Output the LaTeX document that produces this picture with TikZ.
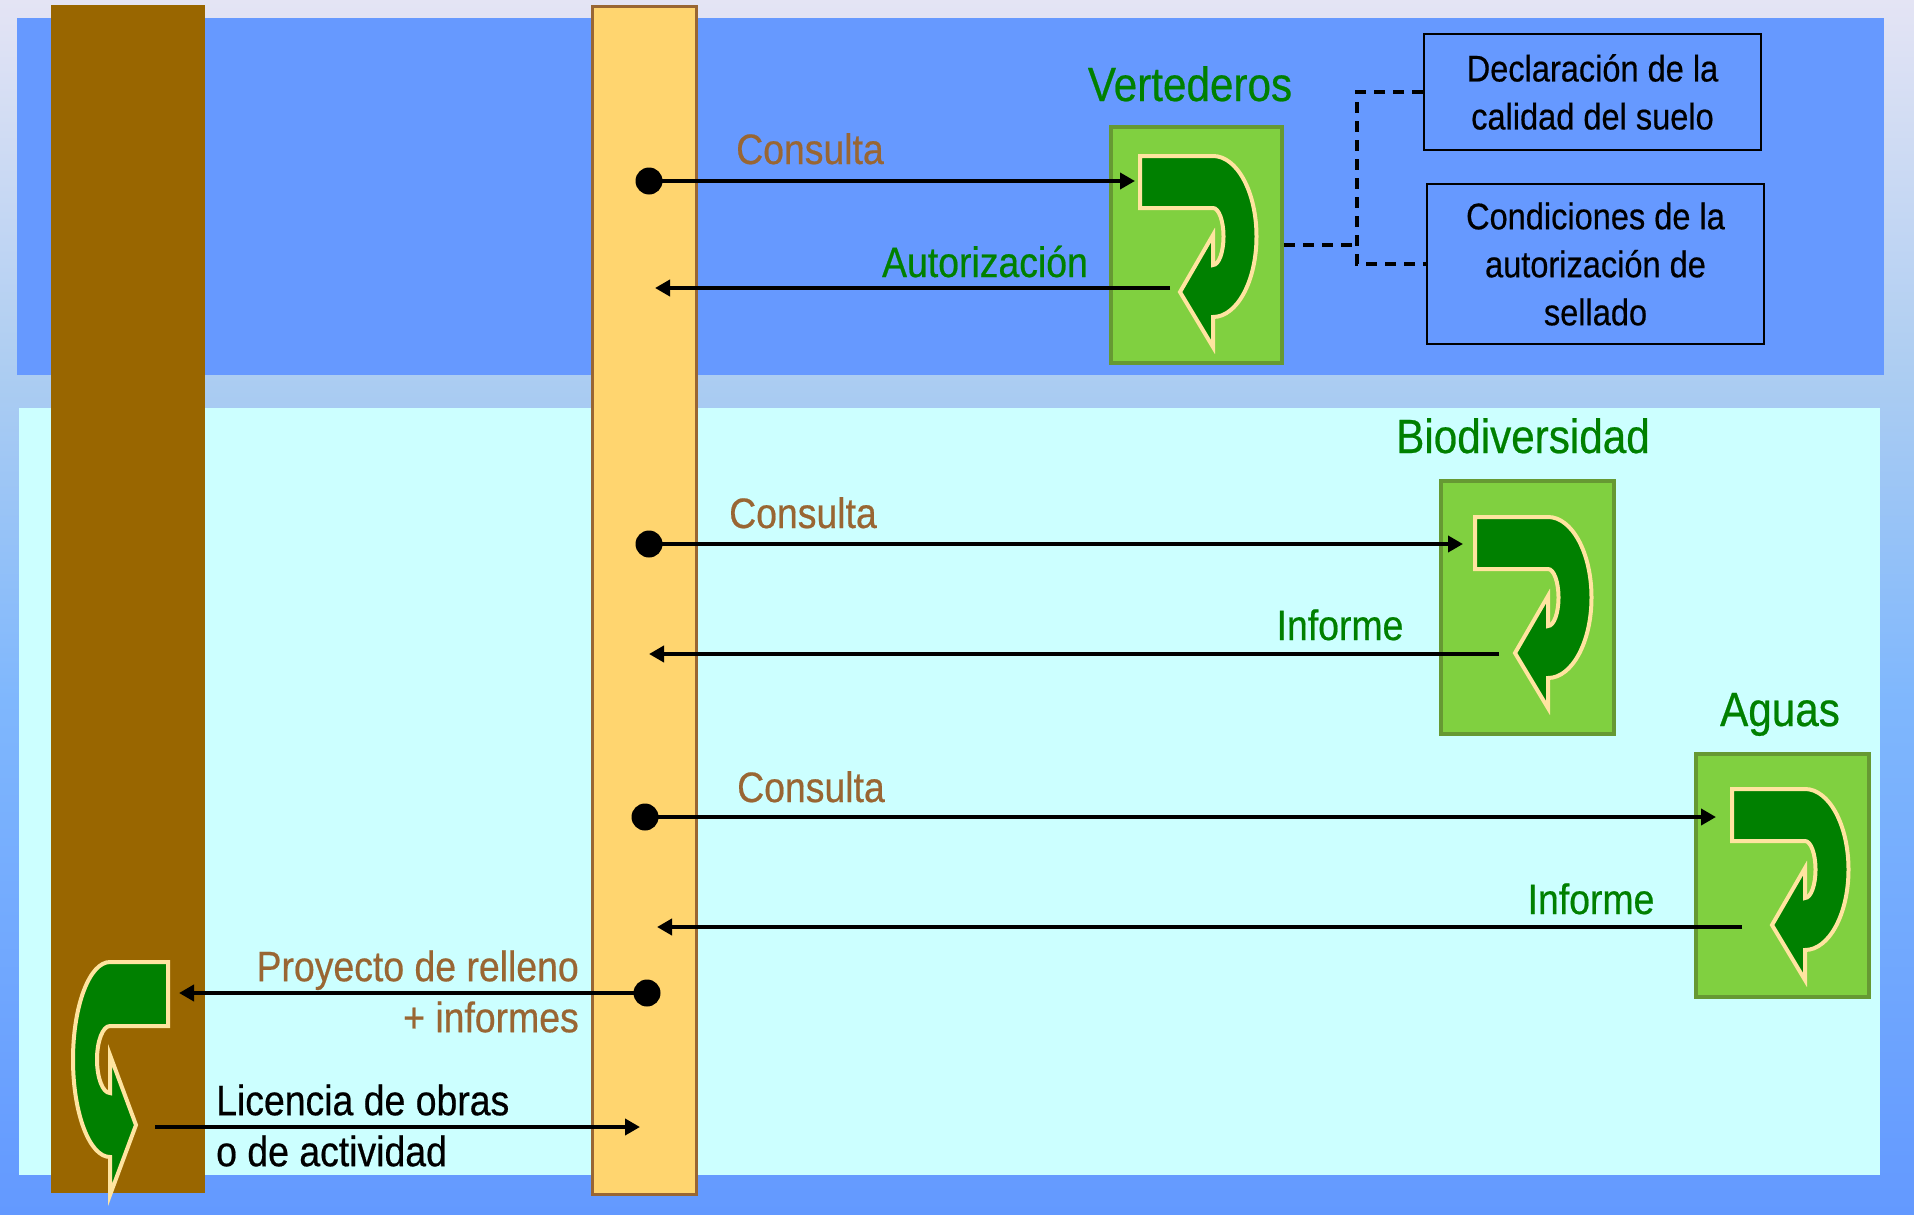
\documentclass[tikz,border=0pt]{standalone}
\usepackage{fontspec}
\setmainfont{Liberation Sans}[FakeStretch=0.88,FakeBold=0.5]
\usetikzlibrary{arrows.meta}
\definecolor{bgtop}{HTML}{E4E4F4}
\definecolor{bgmid}{HTML}{AACCF2}
\definecolor{bglow}{HTML}{7FB7FD}
\definecolor{bgbot}{HTML}{6399FF}
\definecolor{panelblue}{HTML}{6699FF}
\definecolor{panelcyan}{HTML}{CCFFFF}
\definecolor{trunk}{HTML}{996600}
\definecolor{busfill}{HTML}{FFD56F}
\definecolor{busrim}{HTML}{996633}
\definecolor{leaf}{HTML}{80D040}
\definecolor{leafrim}{HTML}{669933}
\definecolor{arrowgreen}{HTML}{008000}
\definecolor{arrowrim}{HTML}{FFE4A0}
\definecolor{labelbrown}{HTML}{996633}
\definecolor{textgreen}{HTML}{008000}
\pgfdeclareverticalshading{bgfade}{100bp}{color(0bp)=(bgbot); color(25bp)=(bgbot); color(46.2bp)=(bglow); color(59bp)=(bgmid); color(75bp)=(bgtop); color(100bp)=(bgtop)}
\newcommand\msgfont{\fontsize{42.5}{51}\selectfont}
\newcommand\orgfont{\fontsize{48}{56}\selectfont}
\newcommand\docfont{\fontsize{37}{48}\selectfont}
\begin{document}
\begin{tikzpicture}[x=1pt,y=-1pt,
  msgarrow/.style={line width=4pt,-{Triangle[length=15pt,width=16pt]}},
  tapdot/.style={circle,fill=black,minimum size=27pt,inner sep=0pt},
  msgtext/.style={anchor=base,inner sep=0pt,font=\msgfont},
  orgbox/.style={draw=leafrim,fill=leaf,line width=4pt,inner sep=0pt},
  orgtitle/.style={anchor=base,inner sep=0pt,font=\orgfont,text=textgreen},
  docbox/.style={draw=black,fill=panelblue,line width=2pt,align=center,font=\docfont,inner sep=0pt},
  linkdash/.style={line width=4pt,dash pattern=on 11pt off 8pt},
  uturn/.pic={
    \filldraw[fill=arrowgreen,draw=arrowrim,line width=4pt] (0,0) -- (73,0)
      arc[start angle=-90,end angle=90,x radius=43.5,y radius=80.5]
      -- (73,191) -- (40,136) -- (73,79) -- (73,109)
      arc[start angle=90,end angle=-90,x radius=10.5,y radius=28.5]
      -- (0,52) -- cycle;
  }]
\useasboundingbox (0,0) rectangle (1914,1215);
\shade[shading=bgfade] (0,0) rectangle (1914,1215);
\fill[panelblue] (17,18) rectangle (1884,375);
\fill[panelcyan] (19,408) rectangle (1880,1175);
\fill[trunk] (51,5) rectangle (205,1193);
\draw[fill=busfill,draw=busrim,line width=3pt] (592.5,6.5) rectangle (696.5,1194.5);

\node[orgbox,minimum width=171pt,minimum height=236pt] (vert) at (1196.5,245) {};
\node[orgbox,minimum width=173pt,minimum height=253pt] (bio) at (1527.5,607.5) {};
\node[orgbox,minimum width=173pt,minimum height=243pt] (aguas) at (1782.5,875.5) {};
\node[orgtitle] (vertt) at (1190,101) {Vertederos};
\node[orgtitle] (biot) at (1523,453) {Biodiversidad};
\node[orgtitle] (aguast) at (1780,726) {Aguas};
\pic at (1140,156) {uturn};
\pic at (1475,517) {uturn};
\pic at (1732,789) {uturn};

\node[docbox,minimum width=337pt,minimum height=116pt] (decl) at (1592.5,92) {Declaración de la\\calidad del suelo};
\node[docbox,minimum width=337pt,minimum height=160pt] (cond) at (1595.5,264) {Condiciones de la\\autorización de\\sellado};
\coordinate (vj) at (1357,245);
\draw[linkdash] (vert.east) -- (vj);
\draw[linkdash] (decl.west) -| (vj |- cond.west) -- (cond.west);

\node[tapdot] (c1) at (649,181) {};
\coordinate (vin) at (1135,181);
\draw[msgarrow] (c1.center) -- (vin);
\node[msgtext,text=labelbrown] at (810,164) {Consulta};
\coordinate (vout) at (1170,288);
\coordinate (vback) at (655,288);
\draw[msgarrow] (vout) -- (vback);
\node[msgtext,text=textgreen] at (985,277) {Autorización};

\node[tapdot] (c2) at (649,544) {};
\coordinate (bin) at (1463,544);
\draw[msgarrow] (c2.center) -- (bin);
\node[msgtext,text=labelbrown] at (803,528) {Consulta};
\coordinate (bout) at (1499,654);
\coordinate (bback) at (649,654);
\draw[msgarrow] (bout) -- (bback);
\node[msgtext,text=textgreen] at (1340,640) {Informe};

\node[tapdot] (c3) at (645,817) {};
\coordinate (ain) at (1716,817);
\draw[msgarrow] (c3.center) -- (ain);
\node[msgtext,text=labelbrown] at (811,802) {Consulta};
\coordinate (aout) at (1742,927);
\coordinate (aback) at (657,927);
\draw[msgarrow] (aout) -- (aback);
\node[msgtext,text=textgreen] at (1591,914) {Informe};

\filldraw[fill=arrowgreen,draw=arrowrim,line width=4pt] (168,962) -- (110,962)
  arc[start angle=-90,end angle=-270,x radius=37,y radius=97.5]
  -- (110,1195) -- (136,1125) -- (110,1055) -- (110,1093)
  arc[start angle=90,end angle=270,x radius=13,y radius=33.5]
  -- (168,1026) -- cycle;
\node[tapdot] (c4) at (647,993) {};
\coordinate (pback) at (179,993);
\draw[msgarrow] (c4.center) -- (pback);
\node[anchor=east,align=right,inner sep=0pt,font=\msgfont,text=labelbrown] (proy) at (579,991.5) {Proyecto de relleno\\+ informes};
\coordinate (lout) at (155,1127);
\coordinate (lin) at (640,1127);
\draw[msgarrow] (lout) -- (lin);
\node[anchor=west,align=left,inner sep=0pt,font=\msgfont] (lic) at (216,1125.5) {Licencia de obras\\o de actividad};
\end{tikzpicture}
\end{document}
